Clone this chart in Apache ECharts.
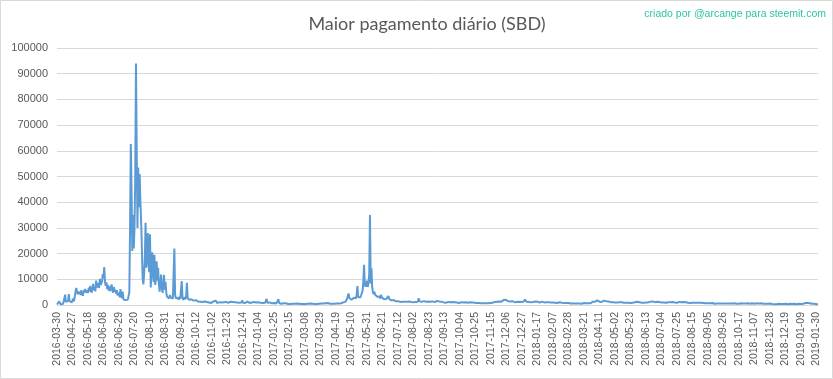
<!DOCTYPE html>
<html>
<head>
<meta charset="utf-8">
<script src="https://cdn.jsdelivr.net/npm/echarts@6/dist/echarts.min.js"></script>
<style>
html,body{margin:0;padding:0;background:#fff;}
#chart{width:833px;height:379px;}
</style>
</head>
<body>
<div id="chart"></div>
<script>
// Daily maximum payout (SBD)
var firstDate = '2016-03-30';
var dailyStart = '2016-04-07'; // data continues daily from here

var vals2016a = [ // 2016-03-30 .. 2016-07-14
200,500,300,1400,700,300,900,500,400,1200,
2600,4000,1200,600,900,1600,4200,1500,800,2100,
1000,700,2500,1400,3100,5000,6600,5400,4200,3800,
5200,4600,4000,5800,4400,3600,5000,4300,6200,4800,
4100,5600,4700,6800,5200,7400,5900,4800,6500,8200,
5700,6900,5300,9500,6800,6200,8400,6600,10200,7800,
7200,9000,12000,10500,14800,9000,7500,8800,6200,7800,
5600,7200,5400,6600,8000,5800,4800,7000,5200,6000,
4400,5800,3800,3500,4800,3000,6200,3600,2800,5200,
2200,2000,2400,1900,2200,2600,2100,2500,5000,30000];

var vals2016b = [
62600,45000,21000,35000,22000,30000,50000,94000,60000,30000,
53500,38000,51000,40000,32500,22000,10500,8000,12000,18000,
32000,14500,20000,28000,16000,12800,27500,6800,12000,20500,
13000,9000,19500,7800,10000,17000,9500,14500,8000,5200,
8000,11800,7000,4700,7500,11700,6000,9000,5000,3200,
2800,3500,2600,3900,3000,2700,3600,2500,3000,22000,
4000,2600,3000,2200,2800,2000,3200,2400,2000,9300,
3000,2000,2500,3000,2200,3500,8600,2800,2400,2000,
2600,1800,2200,1900,2300,1700,2000,1600,1900,1500,
1800,1400,1700,1500,1300,1600,1400,1200,1500,1300];

var vals2016c = [
1400,1100,1600,1200,900,1300,1000,1500,1100,800,
1200,1000,1400,900,1100,1700,1000,800,1200,900,
1100,1300,800,1000,1600,900,1100,700,1000,1200,
900,1400,800,1100,1000,1300,700,900,1200,1000,
800,1100,1500,900,1000,700,1200,900,1100,800,
1000,1800,900,700,1100,800,1000,900,1300,700,
900,800,1100,700,1000,800,900,1200,700,800,
1000,700,900,1100,800,600,900,1000,700,800,
1100,700,900,1300,2400,900,700,800,1000,600,
800,700,900,600,800,1000,700,600,800,900,
2200,800,600,700,500,800,600,700,500,600,
700,500,600,400,500,300,400,600,300,500,
400,300,500,400,300,600,400,300,500,400,
300,400,500,300,400,300,500,400,300,400,
500,300,400,600,400,300,500,400,300,400,
300,500,400,300,400,500,300,400,600,500,
700,600,800,500,700,900,600,800,700,900];

var vals2017a = [
500,400,600,500,400,600,500,700,500,600,
700,500,600,800,600,700,900,700,1000,1200,
1500,1300,1900,2400,3000,4500,2800,3500,2500,2000,
2600,2400,2800,2500,3000,2600,4000,7400,3000,2600,
3500,3000,3800,4500,5500,9000,15600,8000,7100,8000,
9500,7000,8500,12000,35000,8400,14300,7000,5000,4200,
5200,4000,4600,3800,3200,3500,2800,3300,2500,4000,
3000,2600,2400,2200,2600,2000,2300,2100,2500,3500,
2400,2000,1900,1800,2100,1700,1900,1600,1800,1500,
1700,1400,1500,1300,1600,1200,1400,1500,1300,1200,
1500,1300,1400,1100,1300,1500,1200,1400,1300,1600,
1200,1400,1300,1100,1500,1300,1200,1400,1600,1300,
2600,1500,1300,1400,1200,1600,1300,1500,1200,1400,
1300,1600,1200,1400,1500,1100,1300,1700,1200,1400,
1300,1500,1100,1400,1200,1600,1300,1000,1400,1200];

var vals2017b = [
1100,1300,900,1200,1000,1400,1100,900,1300,1000,
1200,1500,1000,1100,1300,900,1200,1000,1400,1100,
900,1200,1000,1300,1100,800,1200,1000,1100,900,
1300,1000,1200,900,1100,1400,1000,900,1200,1000,
1100,900,1300,1000,800,1100,900,1000,1200,800,
900,1000,800,1100,900,700,800,600,700,500,
600,700,500,600,700,500,600,800,600,700,
900,800,1000,1200,900,1100,1300,1000,1200,1400,
1100,1500,1300,1700,1400,1900,1600,1500,2000,2600,
1800,1500,2100,1600,1400,1800,1300,1500,1200,1400,
1100,1300,1500,1200,1600,1400,1300,1700,1500,1200,
1400,1600,1300,1800,2100,1500,1300,1600,1400,1200,
1500,1300,1100,1400,1600,1200,1300,1000,1400,1200,
1100,1300,1000,1200,900,1100,1000,1300,900,1100,
1000,1200,900,1100,1000,800,1100,900,1200,1000,
900,1100,1000,800,1000,900,1200,1000,800,1000,
900,1100,800,1000,900,700,900,800,1000,700,
800,700,600,800,500,700,600,500,700,600];

var vals2018a = [
500,700,600,800,500,600,700,500,600,800,
600,500,700,600,800,600,500,700,600,500,
700,600,800,700,900,1100,1300,1200,1500,1300,
1600,1400,1800,2000,1500,1300,1600,1400,1200,1500,
1300,1700,1400,1200,1500,1300,1100,1400,1200,1300,
1100,1200,1000,1100,900,1200,1000,1100,900,1000,
1200,900,1100,1000,800,1100,1000,1200,900,1000,
1100,900,1000,1200,900,1100,1000,800,1000,1100,
900,1200,1000,1100,900,1000,1300,1000,900,1100,
1000,1200,900,1100,1000,900,1100,1200,1000,900,
1100,1000,1200,1100,1300,1000,1200,1400,1700,1300,
1100,1200,1000,1300,1100,1000,1200,1100,1300,1000,
1200,1100,1000,1300,1100,900,1200,1000,1100,1200,
1000,1100,1300,1000,1200,900,1100,1000,1200,1100,
900,1100,1000,1200,900,1000,1100,900,1000,1200,
900,1000,1100,800,1000,900,1100,1000,800,900,
1000,900,800,1000,900,1100,800,900,1000,800];

var vals2018b = [
900,800,700,900,800,600,800,700,900,700,
800,600,700,800,600,700,500,700,800,600,
700,500,600,800,600,700,500,600,700,500,
600,700,500,600,800,500,600,700,500,600,
700,500,600,500,700,600,500,600,700,500,
600,500,700,600,500,600,500,700,600,500,
600,700,500,600,500,600,700,500,600,500,
500,600,700,500,600,500,600,500,700,600,
500,600,500,600,700,500,600,500,400,600,
500,400,600,500,400,500,600,400,500,400,
400,500,300,400,500,300,400,300,500,400,
300,400,500,300,400,300,400,500,300,400,
300,400,300,500,400,300,400,300,400,500,
300,400,300,400,300,500,400,300,400,500,
600,500,700,600,800,700,600,800,700,600,
700,800,600,500,600,400,500,300,400,300,
400,300];

var yTicks = {min: 0, max: 100000, step: 10000};
var titleText = 'Maior pagamento diário (SBD)';
var creditText = 'criado por @arcange para steemit.com';

var values = [].concat(vals2016a, vals2016b, vals2016c, vals2017a, vals2017b, vals2018a, vals2018b);

var categories = [firstDate];
var d0 = Date.parse(dailyStart + 'T00:00:00Z');
for (var k = 0; categories.length < values.length; k++) {
  categories.push(new Date(d0 + k * 86400000).toISOString().slice(0, 10));
}

var chart = echarts.init(document.getElementById('chart'), null, {renderer: 'canvas'});
chart.setOption({
  animation: false,
  backgroundColor: '#fff',
  grid: {left: 57, right: 15, top: 48, bottom: 74, containLabel: false},
  graphic: [
    {type: 'rect', shape: {x: 0.5, y: 0.5, width: 832, height: 378}, style: {fill: 'none', stroke: '#d9d9d9', lineWidth: 1}, z: -1},
    {type: 'text', x: 427, y: 24, style: {text: titleText, textAlign: 'center', textVerticalAlign: 'middle', fontFamily: 'Lato', fontSize: 18, fill: '#595959'}},
    {type: 'text', x: 826, y: 14, style: {text: creditText, textAlign: 'right', textVerticalAlign: 'middle', fontFamily: 'Liberation Sans', fontSize: 10.5, fill: '#2cc4a2'}}
  ],
  xAxis: {
    type: 'category',
    data: categories,
    boundaryGap: false,
    axisLine: {lineStyle: {color: '#d9d9d9', width: 1}},
    axisTick: {show: false},
    axisLabel: {interval: 20, rotate: 90, margin: 7, color: '#595959', fontSize: 10.5, fontFamily: 'Liberation Sans'},
    splitLine: {show: false}
  },
  yAxis: {
    type: 'value',
    min: yTicks.min, max: yTicks.max, interval: yTicks.step,
    axisLine: {show: false},
    axisTick: {show: false},
    axisLabel: {margin: 9, color: '#595959', fontSize: 11, fontFamily: 'Liberation Sans', formatter: function (v) { return String(v); }},
    splitLine: {lineStyle: {color: '#d9d9d9', width: 1}}
  },
  series: [{
    type: 'line',
    data: values,
    showSymbol: false,
    symbol: 'none',
    lineStyle: {color: '#5b9bd5', width: 2},
    itemStyle: {color: '#5b9bd5'}
  }]
});
</script>
</body>
</html>
